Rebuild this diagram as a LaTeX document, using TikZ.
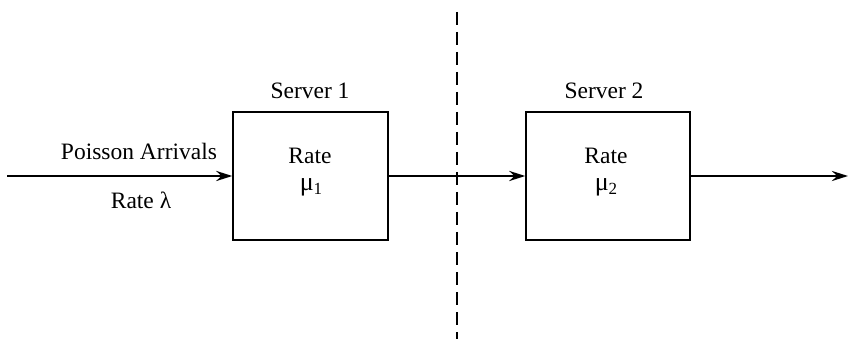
\documentclass[tikz,border=0pt]{standalone}
\usepackage{fontspec}
\setmainfont{Liberation Serif}
\usetikzlibrary{arrows.meta}
\newcommand{\musub}[1]{{\fontsize{26}{28}\selectfont μ}\raisebox{-0.4ex}{\fontsize{17}{19}\selectfont #1}}
\begin{document}
\begin{tikzpicture}[x=1pt,y=-1pt,
  server/.style={draw,line width=1.4pt,minimum width=155pt,minimum height=128pt,inner sep=0pt},
  flow/.style={line width=2.6pt,-{Stealth[length=16pt,width=10pt]}},
  lbl/.style={font=\fontsize{23.5}{27}\selectfont,inner sep=0pt}]
\useasboundingbox (0,0) rectangle (862,339);
\node[server] (s1) at (310.5,176) {};
\node[server,minimum width=164pt] (s2) at (608,176) {};
\node[lbl] (r1) at (310,156) {Rate};
\node[lbl] (m1) at (311,187) {\musub{1}};
\node[lbl] (r2) at (606,156) {Rate};
\node[lbl] (m2) at (606,187) {\musub{2}};
\node[lbl] (t1) at (310,91) {Server 1};
\node[lbl] (t2) at (604,91) {Server 2};
\node[lbl] (pa) at (139,151) {Poisson Arrivals};
\node[lbl] (rl) at (141,200) {Rate λ};
\coordinate (in) at (7,176);
\coordinate (out) at (848,176);
\coordinate (dt) at (457,12);
\coordinate (db) at (457,339);
\draw[line width=1.8pt,dash pattern=on 13pt off 7pt] (dt) -- (db);
\draw[flow] (in) -- (s1.west);
\draw[flow] (s1.east) -- (s2.west);
\draw[flow] (s2.east) -- (out);
\end{tikzpicture}
\end{document}
